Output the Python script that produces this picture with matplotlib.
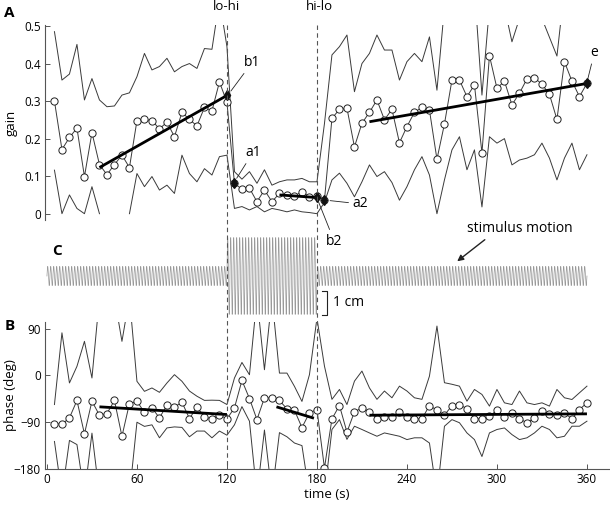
import numpy as np
import matplotlib
matplotlib.use('Agg')
import matplotlib.pyplot as plt
import matplotlib.transforms as mtransforms

plt.rcParams['font.family'] = ['Open Sans', 'DejaVu Sans']

# tiempos de muestreo (s)
t = list(range(5, 361, 5))

# panel A: ganancia
gain = [0.30, 0.171, 0.203, 0.228, 0.099, 0.216, 0.131, 0.104, 0.131, 0.156,
        0.123, 0.248, 0.251, 0.248, 0.226, 0.244, 0.205, 0.27, 0.251, 0.234,
        0.283, 0.274, 0.351, 0.297, 0.081, 0.065, 0.068, 0.032, 0.063, 0.032,
        0.054, 0.05, 0.047, 0.059, 0.045, 0.047, 0.036,
        0.254, 0.278, 0.281, 0.178, 0.241, 0.27, 0.303, 0.25, 0.278, 0.189,
        0.232, 0.27, 0.283, 0.276, 0.145, 0.239, 0.356, 0.356, 0.312, 0.343,
        0.162, 0.421, 0.334, 0.353, 0.29, 0.321, 0.359, 0.362, 0.345, 0.318,
        0.251, 0.405, 0.353, 0.312, 0.347]
gain_hi = [0.485, 0.356, 0.372, 0.451, 0.303, 0.36, 0.303, 0.285, 0.287, 0.316,
           0.322, 0.365, 0.427, 0.383, 0.392, 0.414, 0.378, 0.392, 0.40, 0.387,
           0.44, 0.438, 0.57, 0.445, 0.112, 0.092, 0.112, 0.081, 0.117, 0.076,
           0.085, 0.09, 0.09, 0.094, 0.085, 0.085, 0.24,
           0.423, 0.445, 0.476, 0.325, 0.40, 0.427, 0.476, 0.436, 0.436, 0.356,
           0.405, 0.427, 0.405, 0.471, 0.329, 0.55, 0.56, 0.6, 0.58, 0.6,
           0.316, 0.55, 0.62, 0.55, 0.458, 0.52, 0.6, 0.6, 0.52, 0.47,
           0.42, 0.6, 0.62, 0.6, 0.58]
gain_lo = [0.116, 0.0, 0.05, 0.014, 0.0, 0.072, 0.0, np.nan, np.nan, np.nan,
           0.0, 0.107, 0.072, 0.099, 0.063, 0.076, 0.054, 0.156, 0.107, 0.085,
           0.12, 0.103, 0.152, 0.156, 0.014, 0.019, 0.01, 0.019, 0.005, 0.014,
           0.01, 0.005, 0.01, 0.005, 0.003, 0.0, 0.03,
           0.09, 0.108, 0.081, 0.045, 0.085, 0.13, 0.099, 0.112, 0.083, 0.036,
           0.072, 0.117, 0.152, 0.103, 0.0, 0.09, 0.17, 0.205, 0.117, 0.17,
           0.018, 0.205, 0.188, 0.2, 0.13, 0.143, 0.148, 0.157, 0.188, 0.148,
           0.09, 0.148, 0.188, 0.117, 0.157]

# rectas de ajuste de ganancia (inicio, fin)
gain_fit_t = [(35, 120), (155, 180), (215, 360)]
gain_fit_v = [(0.123, 0.315), (0.05, 0.043), (0.245, 0.347)]
# puntos marcados
mark_names = ['b1', 'a1', 'b2', 'a2', 'e']
mark_t = [120, 125, 180, 185, 360]
mark_v = [0.315, 0.081, 0.045, 0.036, 0.347]

# panel B: fase
phase = [-92.6, -93.9, -81.6, -48.2, -112.5, -49.5, -76.5, -73.3, -48.2, -117,
         -54, -50, -70.7, -62.4, -81.6, -57.2, -61, -51.4, -83, -61,
         -79.7, -83.6, -75.9, -83.6, -62.4, -9.6, -44.4, -84.9, -43, -43.7,
         -48.2, -64.3, -66.9, -100.3, -72, -65.6, -178,
         -83.6, -57.9, -109, -70, -62.4, -70, -83, -79.7, -79.7, -70.7,
         -79.7, -83.6, -83.6, -57.9, -66.9, -76.5, -57.9, -56, -64.3, -83.6,
         -83.6, -78.4, -66.9, -80.4, -72.2, -83, -91.3, -81.6, -68.8, -73.9,
         -77, -72.2, -83.6, -65.6, -52.7]
phase_hi = [-56, 82, -14.5, 17.5, 65.6, -4.9, 150, 150, 150, 65.6,
            150, -11.3, -30.6, -24.1, -32.5, -14.5, 1.5, -11.3, -30, -40,
            -48, -47.6, -48, -56, -5, 25, 1.3, 150, 11, 150,
            4.5, 4.5, -21, -50, 1.5, 110, 18,
            -46, -27, -56, -11, 8.4, -24, -46, -30, -43, -20.6,
            -30, -43, -46, -1.3, 95, -14, -17, -20.6, -49.5, -27,
            -36.6, -59, -27, -52.7, -56, -30, -52.7, -56, -52.7, -59,
            -27, -43, -46.3, -33.4, -20.6]
phase_lo = [-127, -230, -125, -133, -230, -111, -230, -230, -230, -230,
            -230, -90, -98, -95, -120, -101, -99, -100, -118, -107,
            -107, -120, -107, -115, -95, -60, -88, -230, -105, -230,
            -110, -118, -130, -135, -230, -230, -230,
            -104, -85, -123, -97.7, -104, -110.6, -117, -110.6, -113.8, -117,
            -123.4, -120, -120, -130, -230, -97.7, -85, -91, -110.6, -123.4,
            -156, -110.6, -104, -101, -113.8, -123.4, -120, -110.6, -97.7, -104,
            -120, -117, -97.7, -97.7, -88]
phase_fit_t = [(35, 120), (153, 178), (215, 360)]
phase_fit_v = [(-60.4, -75.2), (-60.4, -82.3), (-76.5, -73.9)]

# panel C: estimulo (inicio, fin, amplitud cm), frecuencia Hz
stim_seg = [(0, 120, 0.4), (120, 180, 1.6), (180, 360, 0.4)]
stim_freq = 0.5

W, H = 610, 505
fig = plt.figure(figsize=(W / 100, H / 100), dpi=100)


def box(left, top, right, bottom):
    return [left / W, 1 - bottom / H, (right - left) / W, (bottom - top) / H]


xlim = (-1.3, 374.7)
line_c = '#3a3a3a'
axis_c = '#555555'

# --- A ---
axA = fig.add_axes(box(45, 25, 609, 220))
axA.plot(t, gain_hi, color=line_c, lw=0.7)
axA.plot(t, gain_lo, color=line_c, lw=0.7)
axA.plot(t, gain, color=line_c, lw=0.7, marker='o', ms=5.2, mfc='white',
         mec='#222222', mew=0.7)
for (t0, t1), (v0, v1) in zip(gain_fit_t, gain_fit_v):
    axA.plot([t0, t1], [v0, v1], color='black', lw=2.0, solid_capstyle='butt')
axA.plot(mark_t, mark_v, ls='none', marker='d', ms=5, color='#111111')
axA.set_xlim(xlim)
axA.set_ylim(-0.0168, 0.5027)
axA.set_yticks([0, 0.1, 0.2, 0.3, 0.4, 0.5])
axA.set_yticklabels(['0', '0.1', '0.2', '0.3', '0.4', '0.5'])
axA.set_xticks([])
for s in ['top', 'right', 'bottom']:
    axA.spines[s].set_visible(False)
axA.set_ylabel('gain', fontsize=9.5)
axA.yaxis.set_label_coords(-27 / 564, 0.5)

# etiquetas de puntos
ann = dict(arrowstyle='-', lw=0.6, color='#222222', shrinkA=1, shrinkB=3)
axA.annotate('b1', xy=(121, 0.318), xytext=(137, 0.404), fontsize=10,
             ha='center', va='center', arrowprops=ann)
axA.annotate('a1', xy=(125, 0.085), xytext=(137.5, 0.164), fontsize=10,
             ha='center', va='center', arrowprops=ann)
axA.annotate('a2', xy=(186, 0.036), xytext=(209, 0.026), fontsize=10,
             ha='center', va='center', arrowprops=ann, annotation_clip=False)
axA.annotate('b2', xy=(180, 0.042), xytext=(191.5, -0.073), fontsize=10,
             ha='center', va='center', arrowprops=ann, annotation_clip=False)
axA.annotate('e', xy=(360, 0.35), xytext=(365, 0.43), fontsize=10,
             ha='center', va='center', arrowprops=ann, annotation_clip=False)

# --- C ---
axC = fig.add_axes(box(45, 230, 609, 322))
for t0, t1, amp in stim_seg:
    ts = np.linspace(t0, t1, int((t1 - t0) * 40) + 1)
    axC.plot(ts, amp * np.sin(2 * np.pi * stim_freq * ts), color='#999999', lw=0.5)
axC.set_xlim(xlim)
axC.set_ylim(-1.917, 1.917)
axC.axis('off')
# barra de escala 1 cm
bx0, bx1 = 183.3, 186.7
axC.plot([bx0, bx1, bx1, bx0], [-0.625, -0.625, -1.625, -1.625], color='#222222',
         lw=0.8, clip_on=False)
axC.text(191, -1.125, '1 cm', fontsize=10, ha='left', va='center')

# --- B ---
axB = fig.add_axes(box(45, 322, 609, 469))
axB.plot(t, phase_hi, color=line_c, lw=0.7)
axB.plot(t, phase_lo, color=line_c, lw=0.7)
axB.plot(t, phase, color=line_c, lw=0.7, marker='o', ms=5.2, mfc='white',
         mec='#222222', mew=0.7)
for (t0, t1), (v0, v1) in zip(phase_fit_t, phase_fit_v):
    axB.plot([t0, t1], [v0, v1], color='black', lw=2.0, solid_capstyle='butt')
axB.set_xlim(xlim)
axB.set_ylim(-180, 102.8)
axB.set_yticks([90, 0, -90, -180])
axB.set_xticks([0, 60, 120, 180, 240, 300, 360])
for s in ['top', 'right']:
    axB.spines[s].set_visible(False)
axB.set_ylabel('phase (deg)', fontsize=9.5)
axB.yaxis.set_label_coords(-28 / 564, 0.5)
axB.set_xlabel('time (s)', fontsize=9.5, labelpad=1)

for ax in (axA, axB):
    ax.tick_params(direction='in', length=3.5, width=0.7, color=axis_c,
                   labelsize=8.5, pad=3)
    for s in ax.spines.values():
        s.set_color(axis_c)
        s.set_linewidth(0.8)
    ax.patch.set_alpha(0)

# lineas de cambio de estimulo
trans = mtransforms.blended_transform_factory(axA.transData, fig.transFigure)
for tc in (120, 180):
    fig.add_artist(plt.Line2D([tc, tc], [1 - 25 / H, 1 - 469 / H], transform=trans,
                              color='#555555', lw=0.8, ls=(0, (4, 3))))
fig.text(226 / W, 1 - 7 / H, 'lo-hi', fontsize=9.5, ha='center', va='center')
fig.text(319 / W, 1 - 7 / H, 'hi-lo', fontsize=9.5, ha='center', va='center')

# letras de panel
fig.text(9 / W, 1 - 13 / H, 'A', fontsize=11, fontweight='bold', ha='center', va='center')
fig.text(57 / W, 1 - 251 / H, 'C', fontsize=11, fontweight='bold', ha='center', va='center')
fig.text(10 / W, 1 - 326 / H, 'B', fontsize=11, fontweight='bold', ha='center', va='center')

fig.text(520 / W, 1 - 228 / H, 'stimulus motion', fontsize=10, ha='center', va='center')
fig.add_artist(matplotlib.patches.FancyArrowPatch(
    (487 / W, 1 - 238 / H), (455 / W, 1 - 263 / H), transform=fig.transFigure,
    arrowstyle='-|>', mutation_scale=9, lw=1.0, color='#222222'))

fig.savefig('out.png', dpi=100)
